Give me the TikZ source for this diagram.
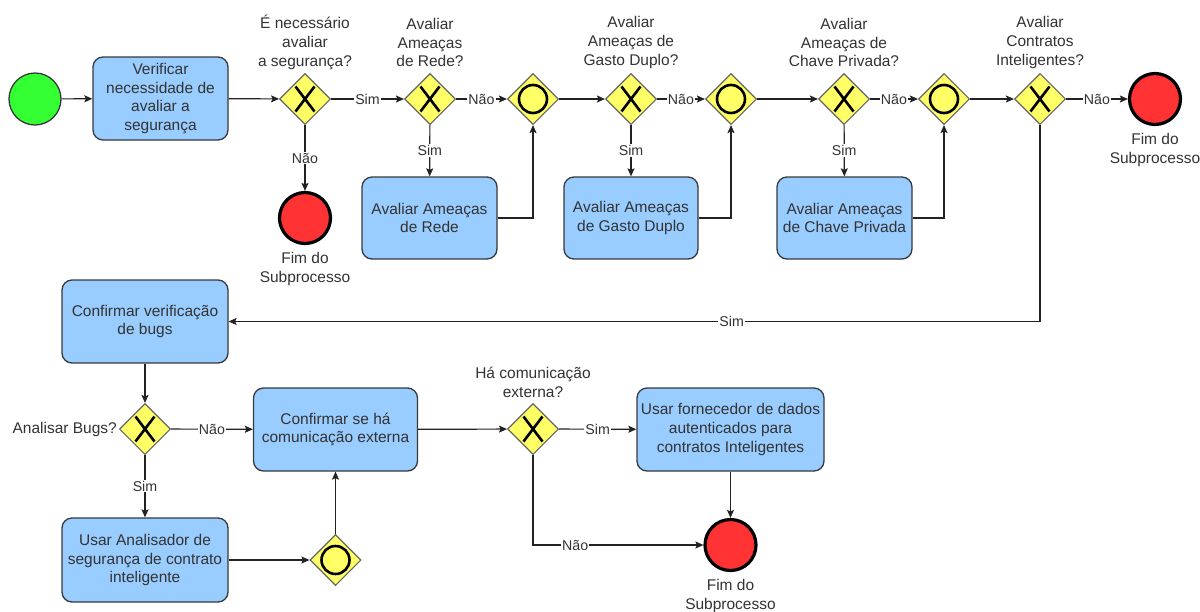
\documentclass[tikz,border=0pt]{standalone}
\usepackage{fontspec}
\setmainfont{Liberation Sans}
\usetikzlibrary{shapes.geometric,arrows.meta}
\definecolor{taskfill}{HTML}{99CCFF}
\definecolor{taskline}{HTML}{36393D}
\definecolor{gwfill}{HTML}{FFFF66}
\definecolor{gwline}{HTML}{666666}
\definecolor{endfill}{HTML}{FF3333}
\definecolor{startfill}{HTML}{33FF33}
\definecolor{ink}{HTML}{333333}
\definecolor{wire}{HTML}{222222}

\begin{document}
\begin{tikzpicture}[x=1pt,y=-1pt,
  nodefont/.style={font=\fontsize{15.5}{18.6}\selectfont},
  txt/.style={nodefont, text=ink, align=center, inner sep=0pt},
  task/.style={nodefont, text=ink, rectangle, rounded corners=10pt, fill=taskfill,
    draw=taskline, line width=1.3pt, align=center, inner sep=2pt},
  gw/.style={diamond, fill=gwfill, draw=gwline, line width=1.1pt,
    minimum width=51pt, minimum height=51pt, inner sep=0pt},
  xgw/.style={gw, path picture={
    \draw[black, line width=2.6pt]
      ([shift={(-9.5,-12.5)}]path picture bounding box.center) -- ++(19,25)
      ([shift={(9.5,-12.5)}]path picture bounding box.center) -- ++(-19,25);}},
  ogw/.style={gw, path picture={
    \draw[black, line width=2.6pt] (path picture bounding box.center) circle[radius=14pt];}},
  endev/.style={circle, fill=endfill, draw=black, line width=3.2pt,
    minimum size=51pt, inner sep=0pt},
  startev/.style={circle, fill=startfill, draw=taskline, line width=1.3pt,
    minimum size=52pt, inner sep=0pt},
  flow/.style={draw=wire, line width=1.2pt, -{Stealth[length=8pt,width=7pt,inset=1.5pt]}},
  lbl/.style={font=\fontsize{14.2}{17}\selectfont, text=ink, fill=white, inner sep=1pt},
]
\useasboundingbox (0,0) rectangle (1200,611);
\fill[white] (0,0) rectangle (1200,611);

% ---- first row: security checks ----
\node[startev] (s) at (35,99) {};
\node[task, minimum width=135pt, minimum height=83pt] (t1) at (160.5,98.5)
  {Verificar\\necessidade de\\avaliar a\\segurança};

\node[xgw] (g1) at (305,99) {};
\node[txt] (g1l) at (305,42.5) {É necessário\\avaliar\\a segurança?};
\node[endev] (e1) at (305,218) {};
\node[txt] (e1l) at (305,269) {Fim do\\Subprocesso};

\node[xgw] (g2) at (430,99) {};
\node[txt] (g2l) at (430,42.5) {Avaliar\\Ameaças\\de Rede?};
\node[ogw] (m1) at (533,99) {};
\node[task, minimum width=135pt, minimum height=82pt] (t2) at (429.5,218)
  {Avaliar Ameaças\\de Rede};

\node[xgw] (g3) at (631,99) {};
\node[txt] (g3l) at (631,42.5) {Avaliar\\Ameaças de\\Gasto Duplo?};
\node[ogw] (m2) at (731,99) {};
\node[task, minimum width=134pt, minimum height=82pt] (t3) at (631,218)
  {Avaliar Ameaças\\de Gasto Duplo};

\node[xgw] (g4) at (844,99) {};
\node[txt] (g4l) at (844,42.5) {Avaliar\\Ameaças de\\Chave Privada?};
\node[ogw] (m3) at (944,99) {};
\node[task, minimum width=135pt, minimum height=82pt] (t4) at (844.5,218)
  {Avaliar Ameaças\\de Chave Privada};

\node[xgw] (g5) at (1040,99) {};
\node[txt] (g5l) at (1040,42.5) {Avaliar\\Contratos\\Inteligentes?};
\node[endev] (e2) at (1155,99) {};
\node[txt] (e2l) at (1155,150) {Fim do\\Subprocesso};

% ---- second row: contract checks ----
\node[task, minimum width=166pt, minimum height=83pt] (t5) at (145,321.5)
  {Confirmar verificação\\de bugs};
\node[xgw] (g6) at (145,429) {};
\node[txt, anchor=east] (g6l) at (117,429) {Analisar Bugs?};
\node[task, minimum width=164pt, minimum height=83pt] (t6) at (335.5,429.5)
  {Confirmar se há\\comunicação externa};
\node[task, minimum width=166pt, minimum height=84pt] (t7) at (145,560)
  {Usar Analisador de\\segurança de contrato\\inteligente};
\node[ogw] (m4) at (335.5,560) {};

\node[xgw] (g7) at (533,429) {};
\node[txt] (g7l) at (533,382.5) {Há comunicação\\externa?};
\node[task, minimum width=187pt, minimum height=83pt] (t8) at (730.5,429.5)
  {Usar fornecedor de dados\\autenticados para\\contratos Inteligentes};
\node[endev] (e3) at (730.5,545) {};
\node[txt] (e3l) at (730.5,596) {Fim do\\Subprocesso};

% ---- sequence flows ----
\draw[flow] (s) -- (t1);
\draw[flow] (t1) -- (g1);
\draw[flow] (g1) -- node[lbl]{Sim} (g2);
\draw[flow] (g1) -- node[lbl]{Não} (e1);

\draw[flow] (g2) -- node[lbl]{Não} (m1);
\draw[flow] (g2) -- node[lbl]{Sim} (t2);
\draw[flow] (t2) -| (m1);
\draw[flow] (m1) -- (g3);

\draw[flow] (g3) -- node[lbl]{Não} (m2);
\draw[flow] (g3) -- node[lbl]{Sim} (t3);
\draw[flow] (t3) -| (m2);
\draw[flow] (m2) -- (g4);

\draw[flow] (g4) -- node[lbl]{Não} (m3);
\draw[flow] (g4) -- node[lbl]{Sim} (t4);
\draw[flow] (t4) -| (m3);
\draw[flow] (m3) -- (g5);

\draw[flow] (g5) -- node[lbl]{Não} (e2);
\draw[flow] (g5) |- node[lbl, pos=0.69]{Sim} (t5);

\draw[flow] (t5) -- (g6);
\draw[flow] (g6) -- node[lbl]{Não} (t6);
\draw[flow] (g6) -- node[lbl]{Sim} (t7);
\draw[flow] (t7) -- (m4);
\draw[flow] (m4) -- (t6);
\draw[flow] (t6) -- (g7);
\draw[flow] (g7) -- node[lbl]{Sim} (t8);
\draw[flow] (g7) |- node[lbl, pos=0.624]{Não} (e3);
\draw[flow] (t8) -- (e3);
\end{tikzpicture}
\end{document}
